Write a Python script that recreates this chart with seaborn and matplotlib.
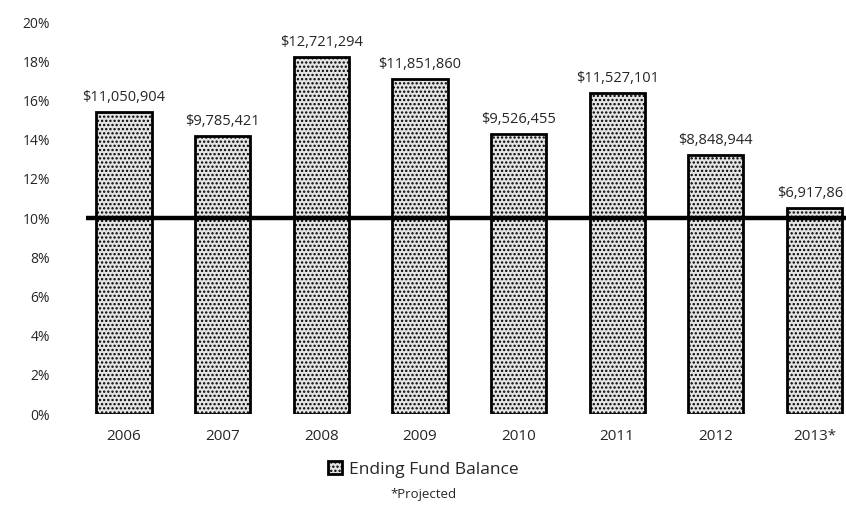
import matplotlib
matplotlib.use("Agg")
import matplotlib.pyplot as plt
import seaborn as sns
import pandas as pd

# values
years = ["2006", "2007", "2008", "2009", "2010", "2011", "2012", "2013*"]
pct_of_budget = [15.4, 14.2, 18.2, 17.1, 14.3, 16.4, 13.2, 10.5]
fund_labels = ["$11,050,904", "$9,785,421", "$12,721,294", "$11,851,860",
               "$9,526,455", "$11,527,101", "$8,848,944", "$6,917,86"]
target_pct = 10

df = pd.DataFrame({"Year": years, "Pct": pct_of_budget, "Label": fund_labels})

sns.set_style("white")
plt.rcParams["font.family"] = ["Open Sans", "DejaVu Sans"]
plt.rcParams["hatch.linewidth"] = 1.1

fig = plt.figure(figsize=(8.46, 5.12), dpi=100)
ax = fig.add_axes([0.1017, 0.191, 0.8983, 0.766])

sns.barplot(data=df, x="Year", y="Pct", color="#e4e4e4", edgecolor="black",
            linewidth=2, width=0.56, hatch="....", errorbar=None, ax=ax)

# target line at 10%
ax.axhline(target_pct, color="black", lw=3.2, zorder=5)

last = len(fund_labels) - 1
for i, (p, lab) in enumerate(zip(pct_of_budget, fund_labels)):
    # last label sits flush with the right edge, as in the scan
    shift = -3 if i == last else 0
    ax.annotate(lab, (i, p), xytext=(shift, 5), textcoords="offset points",
                ha="center", va="bottom", fontsize=10.5)

ax.set_xlim(-0.385, 7.32)
ax.set_ylim(0, 20)
ax.set_yticks(range(0, 21, 2))
ax.set_yticklabels([f"{v}%" for v in range(0, 21, 2)])
ax.tick_params(axis="y", length=0, pad=26, labelsize=10)
ax.tick_params(axis="x", length=0, pad=11, labelsize=11)
ax.set_xlabel("")
ax.set_ylabel("")
sns.despine(ax=ax, left=True, bottom=True)

handle = ax.patches[0]
fig.legend([handle], ["Ending Fund Balance"], loc="center", bbox_to_anchor=(0.5, 0.083),
           frameon=False, fontsize=12.5, handlelength=0.8, handleheight=0.8, handletextpad=0.4)
fig.text(0.5, 0.035, "*Projected", ha="center", va="center", fontsize=9.5)

fig.savefig("out.png", dpi=100)
